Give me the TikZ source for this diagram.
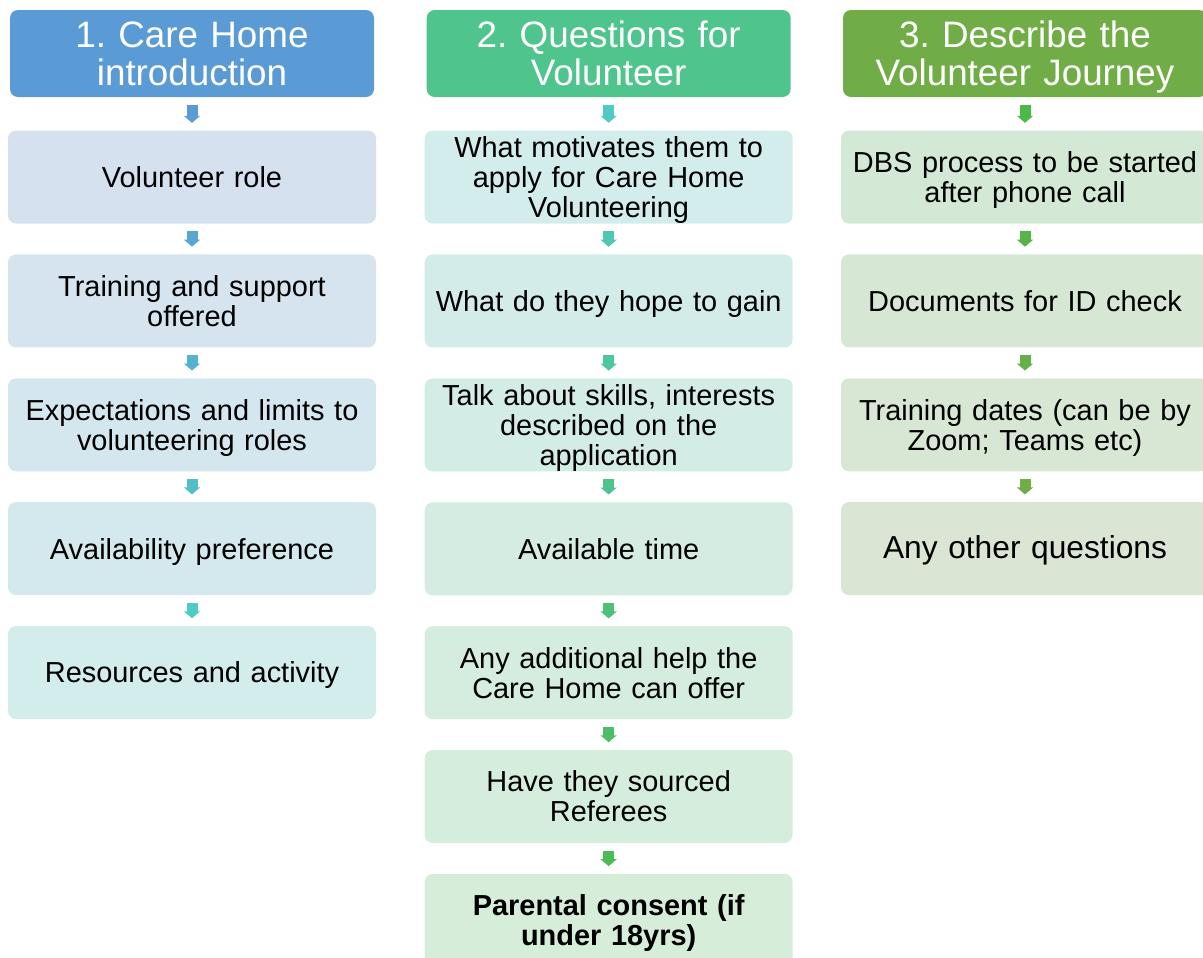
\documentclass[tikz,border=0pt]{standalone}
\usepackage{fontspec}
\setmainfont{Liberation Sans}
\usetikzlibrary{positioning, arrows.meta}
\frenchspacing

\definecolor{hdrA}{HTML}{5B9BD5}
\definecolor{hdrB}{HTML}{50C48D}
\definecolor{hdrC}{HTML}{70AD47}
\definecolor{fillA}{HTML}{D6E1F0}
\definecolor{fillB}{HTML}{D3ECEC}
\definecolor{fillC}{HTML}{D5EDD9}
\definecolor{fillD}{HTML}{D4E9D5}
\definecolor{fillE}{HTML}{DAE5D3}
\definecolor{arrA}{HTML}{5B9BD5}
\definecolor{arrB}{HTML}{4ECBC4}
\definecolor{arrC}{HTML}{4DBB55}
\definecolor{arrD}{HTML}{4BB847}
\definecolor{arrE}{HTML}{70AD47}

\begin{document}
\begin{tikzpicture}[node distance=22.75pt]
    % Define block styles
    \tikzstyle{header} = [rectangle, fill=hdrA, text=white, text width=262pt, align=center, inner ysep=0pt, rounded corners=6pt, minimum width=273pt, minimum height=65.25pt, font=\fontsize{27.6}{28.5}\selectfont, execute at begin node={\rule{0pt}{26pt}}, execute at end node={\rule[-6.2pt]{0pt}{0pt}}]
    \tikzstyle{block} = [rectangle, text width=262pt, align=center, inner ysep=0pt, rounded corners=6pt, minimum width=276pt, minimum height=69.75pt, font=\fontsize{21.7}{22.5}\selectfont, execute at begin node={\rule{0pt}{20.2pt}}, execute at end node={\rule[-4.6pt]{0pt}{0pt}}]
    \tikzstyle{flow} = [line width=8.25pt, -{Triangle[width=12pt,length=5.25pt]}, shorten <=5.6pt, shorten >=5.6pt]

    \useasboundingbox (0,0) rectangle (902.25pt,-717.75pt);

    % Place headers
    \node [header] (intro) at (144pt,-40.125pt) {1. Care Home\\introduction};
    \node [header, fill=hdrB] (questions) at (456.5pt,-40.125pt) {2. Questions for\\Volunteer};
    \node [header, fill=hdrC] (journey) at (768.75pt,-40.125pt) {3. Describe the\\Volunteer Journey};

    % Column 1
    \node [block, fill=fillA, below=24.75pt of intro] (role) {Volunteer role};
    \node [block, fill=fillB!25!fillA, below=of role] (training) {Training and support\\offered};
    \node [block, fill=fillB!50!fillA, below=of training] (limits) {Expectations and limits to\\volunteering roles};
    \node [block, fill=fillB!75!fillA, below=of limits] (avail) {Availability preference};
    \node [block, fill=fillB, below=of avail] (resources) {Resources and activity};

    % Column 2
    \node [block, fill=fillB, below=24.75pt of questions] (motive) {What motivates them to\\apply for Care Home\\Volunteering};
    \node [block, fill=fillC!17!fillB, below=of motive] (gain) {What do they hope to gain};
    \node [block, fill=fillC!33!fillB, below=of gain] (skills) {Talk about skills, interests\\described on the\\application};
    \node [block, fill=fillC!50!fillB, below=of skills] (time) {Available time};
    \node [block, fill=fillC!67!fillB, below=of time] (help) {Any additional help the\\Care Home can offer};
    \node [block, fill=fillC!83!fillB, below=of help] (referees) {Have they sourced\\Referees};
    \node [block, fill=fillC, below=of referees, font=\fontsize{21.7}{22.5}\selectfont\bfseries] (consent) {Parental consent (if\\under 18yrs)};

    % Column 3
    \node [block, fill=fillD, below=24.75pt of journey] (dbs) {DBS process to be started\\after phone call};
    \node [block, fill=fillE!33!fillD, below=of dbs] (idcheck) {Documents for ID check};
    \node [block, fill=fillE!67!fillD, below=of idcheck] (dates) {Training dates (can be by\\Zoom; Teams etc)};
    \node [block, fill=fillE, below=of dates, font=\fontsize{23.8}{25}\selectfont] (other) {Any other questions};

    % Draw connections as arrows
    \draw [flow, arrA] (intro) -- (role);
    \draw [flow, arrB!25!arrA] (role) -- (training);
    \draw [flow, arrB!50!arrA] (training) -- (limits);
    \draw [flow, arrB!75!arrA] (limits) -- (avail);
    \draw [flow, arrB] (avail) -- (resources);

    \draw [flow, arrB] (questions) -- (motive);
    \draw [flow, arrC!17!arrB] (motive) -- (gain);
    \draw [flow, arrC!33!arrB] (gain) -- (skills);
    \draw [flow, arrC!50!arrB] (skills) -- (time);
    \draw [flow, arrC!67!arrB] (time) -- (help);
    \draw [flow, arrC!83!arrB] (help) -- (referees);
    \draw [flow, arrC] (referees) -- (consent);

    \draw [flow, arrD] (journey) -- (dbs);
    \draw [flow, arrE!33!arrD] (dbs) -- (idcheck);
    \draw [flow, arrE!67!arrD] (idcheck) -- (dates);
    \draw [flow, arrE] (dates) -- (other);

\end{tikzpicture}
\end{document}
